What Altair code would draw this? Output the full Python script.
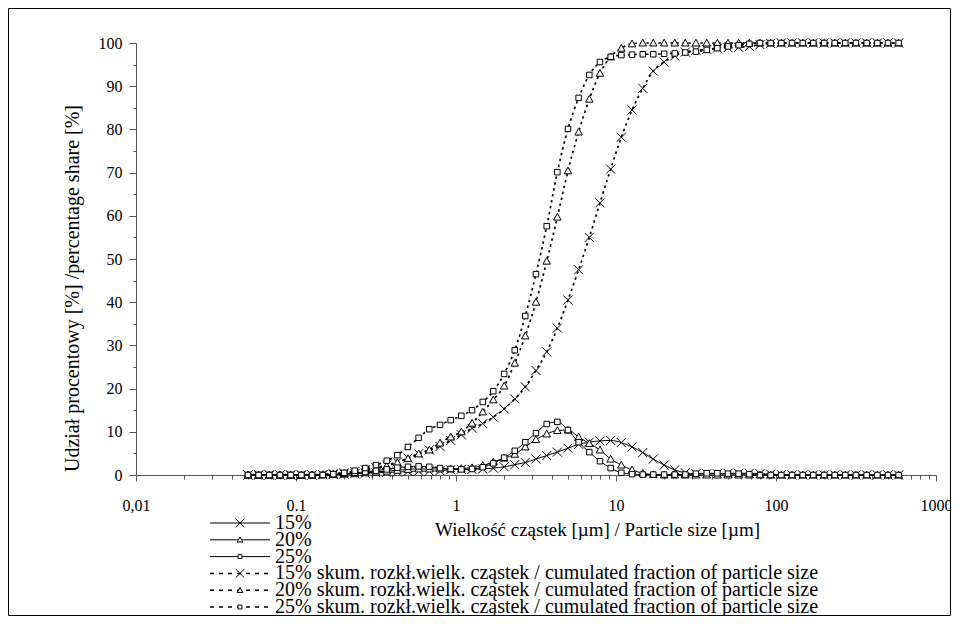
import altair as alt
import pandas as pd

# particle size classes [µm]
sizes = [0.0501, 0.0584, 0.0681, 0.0794, 0.0926, 0.108, 0.126, 0.147, 0.171, 0.200,
         0.233, 0.271, 0.316, 0.369, 0.430, 0.501, 0.584, 0.681, 0.794, 0.926,
         1.08, 1.26, 1.47, 1.71, 2.00, 2.33, 2.71, 3.16, 3.69, 4.30,
         5.01, 5.84, 6.81, 7.94, 9.26, 10.8, 12.6, 14.7, 17.1, 20.0,
         23.3, 27.1, 31.6, 36.9, 43.0, 50.1, 58.4, 68.1, 79.4, 92.6,
         108, 126, 147, 171, 200, 233, 271, 316, 369, 430,
         501, 584]

dens15 = [0, 0, 0, 0, 0, 0, 0, 0.05, 0.1, 0.2,
          0.3, 0.4, 0.5, 0.6, 0.7, 0.8, 0.9, 0.9, 1.0, 1.2,
          1.3, 1.3, 1.4, 1.6, 1.9, 2.4, 2.9, 3.7, 4.5, 5.3,
          6.2, 7.1, 7.6, 7.9, 8.0, 7.5, 6.5, 5.2, 3.7, 2.3,
          1.2, 0.5, 0.3, 0.3, 0.3, 0.4, 0.4, 0.4, 0.3, 0.2,
          0.1, 0, 0, 0, 0, 0, 0, 0, 0, 0,
          0, 0]
dens20 = [0, 0, 0, 0, 0, 0, 0, 0.05, 0.1, 0.2,
          0.3, 0.5, 0.7, 0.9, 1.1, 1.3, 1.4, 1.4, 1.4, 1.4,
          1.5, 1.7, 2.2, 3.0, 3.9, 4.8, 6.5, 8.2, 9.5, 10.3,
          10.4, 8.8, 7.3, 5.8, 3.7, 2.3, 1.2, 0.4, 0.1, 0,
          0, 0, 0, 0, 0, 0, 0, 0, 0, 0,
          0, 0, 0, 0, 0, 0, 0, 0, 0, 0,
          0, 0]
dens25 = [0, 0, 0, 0, 0, 0, 0, 0, 0.1, 0.3,
          0.5, 0.7, 1.0, 1.3, 1.7, 1.9, 2.0, 1.9, 1.6, 1.4,
          1.3, 1.4, 1.8, 2.7, 4.0, 5.6, 7.6, 9.7, 11.8, 12.3,
          10.4, 7.6, 5.3, 3.2, 1.6, 0.5, 0.2, 0.1, 0.1, 0.1,
          0.1, 0.1, 0.3, 0.4, 0.4, 0.3, 0.3, 0.2, 0, 0,
          0, 0, 0, 0, 0, 0, 0, 0, 0, 0,
          0, 0]
cum15 = [0, 0, 0, 0, 0, 0, 0, 0.1, 0.3, 0.5,
         0.8, 1.2, 1.7, 2.3, 3.0, 3.9, 4.9, 5.8, 6.6, 8.0,
         9.3, 10.8, 11.9, 13.4, 15.3, 17.6, 20.4, 24.2, 28.5, 34.0,
         40.5, 47.5, 55.0, 63.0, 70.8, 78.2, 84.5, 89.5, 93.5, 95.6,
         97.0, 97.9, 98.3, 98.5, 98.8, 98.9, 99.0, 99.2, 99.6, 99.9,
         100, 100, 100, 100, 100, 100, 100, 100, 100, 100,
         100, 100]
cum20 = [0, 0, 0, 0, 0, 0, 0, 0.1, 0.2, 0.4,
         0.7, 1.0, 1.5, 2.1, 2.9, 3.8, 4.9, 5.8, 7.4, 8.8,
         10.0, 12.0, 14.6, 17.4, 20.6, 25.9, 32.2, 40.0, 49.5, 59.7,
         70.4, 79.4, 87.0, 93.0, 96.8, 98.8, 99.8, 100, 100, 100,
         100, 100, 100, 100, 100, 100, 100, 100, 100, 100,
         100, 100, 100, 100, 100, 100, 100, 100, 100, 100,
         100, 100]
cum25 = [0, 0, 0, 0, 0, 0, 0, 0, 0.2, 0.5,
         1.0, 1.6, 2.3, 3.3, 4.6, 6.5, 8.6, 10.6, 11.6, 12.7,
         13.7, 15.0, 16.9, 19.4, 23.4, 28.9, 36.8, 46.5, 57.6, 70.1,
         80.1, 87.3, 92.6, 95.6, 96.8, 97.2, 97.3, 97.4, 97.4, 97.5,
         97.6, 97.8, 98.0, 98.4, 98.8, 99.2, 99.5, 99.8, 100, 100,
         100, 100, 100, 100, 100, 100, 100, 100, 100, 100,
         100, 100]

legend_labels = [
    "15%", "20%", "25%",
    "15% skum. rozkł.wielk. cząstek / cumulated fraction of particle size",
    "20% skum. rozkł.wielk. cząstek / cumulated fraction of particle size",
    "25% skum. rozkł.wielk. cząstek / cumulated fraction of particle size",
]
legend_styles = ["solid", "solid", "solid", "dots", "dots", "dots"]
legend_markers = ["x", "tri", "sq", "x", "tri", "sq"]

series_def = [
    ("d15", dens15, "dens", "x"), ("d20", dens20, "dens", "tri"), ("d25", dens25, "dens", "sq"),
    ("c15", cum15, "cum", "x"), ("c20", cum20, "cum", "tri"), ("c25", cum25, "cum", "sq"),
]
rows = []
for name, vals, kind, marker in series_def:
    for s, v in zip(sizes, vals):
        rows.append({"size": s, "value": v, "series": name, "kind": kind, "marker": marker})
df = pd.DataFrame(rows)

# marker shapes
X_PATH = "M-0.9,-0.9L0.9,0.9M-0.9,0.9L0.9,-0.9"
TRI_PATH = "M0,-0.75L0.75,0.6L-0.75,0.6Z"
SQ_PATH = "M-0.55,-0.55L0.55,-0.55L0.55,0.55L-0.55,0.55Z"
marker_paths = {"x": X_PATH, "tri": TRI_PATH, "sq": SQ_PATH}

W, H = 800, 432
PAD = {"left": 128, "top": 35, "right": 15, "bottom": 141}
FONT = "Liberation Serif"

xticks = sorted(set([round(m * 10 ** e, 6) for e in range(-2, 3) for m in range(1, 10)] + [1000]))
decade_test = "indexof([0.01,0.1,1,10,100,1000], datum.value) >= 0"
label_expr = ("datum.value == 0.01 ? '0,01' : datum.value == 0.1 ? '0.1' : datum.value == 1 ? '1' : "
              "datum.value == 10 ? '10' : datum.value == 100 ? '100' : datum.value == 1000 ? '1000' : ''")

xaxis = alt.Axis(
    values=xticks, labelExpr=label_expr, labelOverlap=False, labelBound=False, labelFlush=False,
    grid=False, tickSize={"condition": {"test": decade_test, "value": 6}, "value": 4},
    labelPadding=16, labelFontSize=16, domainColor="#555", tickColor="#555",
    titleFontSize=19, titleFontWeight="normal", titleX=461, titleY=54,
    titleAlign="center", titleBaseline="middle",
)
yaxis = alt.Axis(
    values=list(range(0, 101, 5)), labelExpr="datum.value % 10 == 0 ? datum.label : ''",
    labelOverlap=False, grid=False,
    tickSize={"condition": {"test": "datum.value % 10 == 0", "value": 7}, "value": 3},
    labelPadding=7, labelFontSize=16, domainColor="#555", tickColor="#555",
    titleFontSize=20, titleFontWeight="normal", titleX=-64, titleY=245,
    titleAngle=270, titleAlign="center", titleBaseline="middle",
)

base = alt.Chart(df).encode(
    x=alt.X("size:Q", scale=alt.Scale(type="log", domain=[0.01, 1000]), axis=xaxis,
            title="Wielkość cząstek [µm] / Particle size [µm]"),
    y=alt.Y("value:Q", scale=alt.Scale(domain=[0, 100]), axis=yaxis,
            title="Udział procentowy [%] /percentage share [%]"),
    detail="series:N",
)

dens_lines = base.transform_filter(alt.datum.kind == "dens").mark_line(
    interpolate="monotone", color="black", strokeWidth=1)
cum_lines = base.transform_filter(alt.datum.kind == "cum").mark_line(
    interpolate="monotone", color="black", strokeWidth=1.7, strokeDash=[2.5, 3.5])

point_layers = []
for m, p in marker_paths.items():
    point_layers.append(
        base.transform_filter(alt.datum.marker == m).mark_point(
            shape=p, size=100, filled=True, fill="white", stroke="black",
            strokeWidth=1, opacity=1)
    )

border = alt.Chart(pd.DataFrame({"a": [0]})).mark_rect(fillOpacity=0, stroke="black", strokeWidth=1).encode(
    x=alt.value(-127.5), x2=alt.value(W + 14.5), y=alt.value(-34.5), y2=alt.value(H + 140.5)
)

main = alt.layer(border, dens_lines, cum_lines, *point_layers)

# ---- legend drawn below the axis title, from its own small table ----
legend_df = pd.DataFrame({
    "row": list(range(6)),
    "lbl": legend_labels,
    "style": legend_styles,
    "marker": legend_markers,
    "x0": [0] * 6, "x1": [1] * 6, "xm": [0.5] * 6, "xt": [1.083] * 6,
})
lx_scale = alt.Scale(domain=[0, 1], range=[74, 134])
ly_scale = alt.Scale(domain=[0, 5], range=[480, 564])
lbase = alt.Chart(legend_df).encode(
    y=alt.Y("row:Q", scale=ly_scale, axis=None),
)
leg_solid = lbase.transform_filter(alt.datum.style == "solid").mark_rule(
    color="black", strokeWidth=1).encode(
    x=alt.X("x0:Q", scale=lx_scale, axis=None), x2="x1:Q")
leg_dots = lbase.transform_filter(alt.datum.style == "dots").mark_rule(
    color="black", strokeWidth=1.5, strokeDash=[4, 5]).encode(
    x=alt.X("x0:Q", scale=lx_scale, axis=None), x2="x1:Q")
leg_pts = []
leg_sizes = {"x": 90, "tri": 55, "sq": 50}
for m, p in marker_paths.items():
    leg_pts.append(
        lbase.transform_filter(alt.datum.marker == m).mark_point(
            shape=p, size=leg_sizes[m], filled=True, fill="white", stroke="black",
            strokeWidth=1, opacity=1).encode(
            x=alt.X("xm:Q", scale=lx_scale, axis=None))
    )
leg_text = lbase.mark_text(align="left", baseline="middle", font=FONT, fontSize=20,
                           color="black").encode(
    x=alt.X("xt:Q", scale=lx_scale, axis=None), text="lbl:N")

legend = alt.layer(leg_solid, leg_dots, *leg_pts, leg_text)

chart = alt.layer(main, legend).resolve_scale(
    x="independent", y="independent"
).properties(
    width=W, height=H, padding=PAD, autosize=alt.AutoSizeParams(type="none")
).configure(
    font=FONT,
).configure_view(
    stroke=None
).configure_axis(
    labelColor="black", titleColor="black", labelFont=FONT, titleFont=FONT
)

chart.save("out.html", embed_options={"renderer": "svg", "actions": False})
